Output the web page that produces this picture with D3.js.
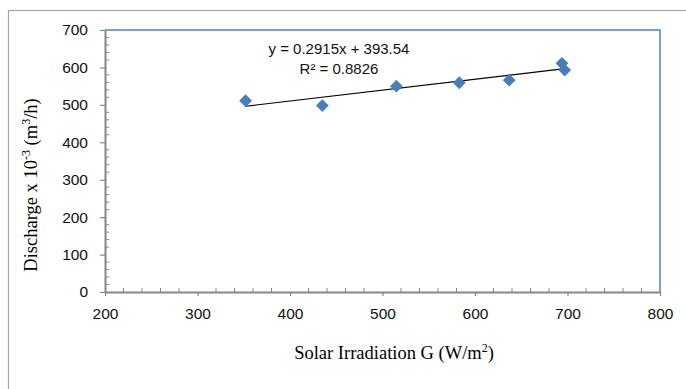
<!DOCTYPE html>
<html>
<head>
<meta charset="utf-8">
<script src="https://cdn.jsdelivr.net/npm/d3@7"></script>
<style>
  html, body { margin: 0; padding: 0; background: #fff; }
  svg { display: block; }
</style>
</head>
<body>
<svg id="chart" width="686" height="389"></svg>
<script>
// ---- data ----
const irradiation = [352, 435, 515, 583, 637, 694, 697];
const discharge   = [511, 498, 550, 559, 566, 611, 593];
const xTicks = [200, 300, 400, 500, 600, 700, 800];
const yTicks = [0, 100, 200, 300, 400, 500, 600, 700];
const trendSlope = 0.2915;
const trendIntercept = 393.54;
const equationLines = ["y = 0.2915x + 393.54", "R\u00B2 = 0.8826"];

const svg = d3.select("#chart");
const W = 686, H = 389;
const plot = { left: 105, right: 660, top: 30, bottom: 292 };

const x = d3.scaleLinear().domain([200, 800]).range([plot.left, plot.right]);
const y = d3.scaleLinear().domain([0, 700]).range([plot.bottom, plot.top]);

// outer chart border
svg.append("rect")
  .attr("x", 8.5).attr("y", 10.5)
  .attr("width", W + 10).attr("height", H + 10)
  .attr("fill", "none").attr("stroke", "#a6a6a6").attr("stroke-width", 1.2);

// plot-area border top/right in blue
svg.append("path")
  .attr("d", `M${plot.left},${plot.top}H${plot.right}V${plot.bottom}`)
  .attr("fill", "none").attr("stroke", "#4f81d0").attr("stroke-width", 1.5);

const axisColor = "#878787";
const tickFont = "'Liberation Sans', Arial, sans-serif";

// minor ticks (inside)
const xMinor = d3.range(200, 801, 20).filter(v => v % 100 !== 0);
const yMinor = d3.range(0, 701, 20).filter(v => v % 100 !== 0);

svg.append("g").selectAll("line").data(xMinor).join("line")
  .attr("x1", d => x(d)).attr("x2", d => x(d))
  .attr("y1", plot.bottom).attr("y2", plot.bottom - 4)
  .attr("stroke", axisColor).attr("stroke-width", 1);

svg.append("g").selectAll("line").data(yMinor).join("line")
  .attr("y1", d => y(d)).attr("y2", d => y(d))
  .attr("x1", plot.left).attr("x2", plot.left + 4)
  .attr("stroke", axisColor).attr("stroke-width", 1);

// x axis
const xAxis = svg.append("g")
  .attr("transform", `translate(0,${plot.bottom})`)
  .call(d3.axisBottom(x).tickValues(xTicks).tickSize(4).tickPadding(12).tickSizeOuter(0));
xAxis.select(".domain").attr("stroke", axisColor).attr("stroke-width", 2);
xAxis.selectAll(".tick line").attr("stroke", axisColor).attr("stroke-width", 1.2);
xAxis.selectAll("text").attr("font-family", tickFont).attr("font-size", 15.5).attr("fill", "#111");

// y axis
const yAxis = svg.append("g")
  .attr("transform", `translate(${plot.left},0)`)
  .call(d3.axisLeft(y).tickValues(yTicks).tickSize(5).tickPadding(12).tickSizeOuter(0));
yAxis.select(".domain").attr("stroke", axisColor).attr("stroke-width", 2);
yAxis.selectAll(".tick line").attr("stroke", axisColor).attr("stroke-width", 1.2);
yAxis.selectAll("text").attr("font-family", tickFont).attr("font-size", 15.5).attr("fill", "#111");

// trendline
const xMin = d3.min(irradiation), xMax = d3.max(irradiation);
svg.append("line")
  .attr("x1", x(xMin)).attr("y1", y(trendSlope * xMin + trendIntercept))
  .attr("x2", x(xMax)).attr("y2", y(trendSlope * xMax + trendIntercept))
  .attr("stroke", "#000").attr("stroke-width", 1.1);

// points (diamonds)
const pts = irradiation.map((v, i) => ({ gx: v, q: discharge[i] }));
svg.append("g").selectAll("path").data(pts).join("path")
  .attr("transform", d => `translate(${x(d.gx)},${y(d.q)})`)
  .attr("d", d3.symbol().type(d3.symbolDiamond2).size(105))
  .attr("fill", "#4a7ebb");

// equation label
svg.append("g").selectAll("text").data(equationLines).join("text")
  .attr("x", 339).attr("y", (d, i) => 54 + i * 20)
  .attr("text-anchor", "middle")
  .attr("font-family", tickFont).attr("font-size", 15).attr("fill", "#111")
  .text(d => d);

// axis titles
const serif = "'Liberation Serif', 'Times New Roman', serif";
const xt = svg.append("text")
  .attr("x", 394).attr("y", 359)
  .attr("text-anchor", "middle")
  .attr("font-family", serif).attr("font-size", 18.5).attr("fill", "#000");
xt.append("tspan").text("Solar Irradiation G (W/m");
xt.append("tspan").attr("dy", -7).attr("font-size", 12).text("2");
xt.append("tspan").attr("dy", 7).text(")");

const yt = svg.append("text")
  .attr("transform", "translate(37,185) rotate(-90)")
  .attr("text-anchor", "middle")
  .attr("font-family", serif).attr("font-size", 18.5).attr("fill", "#000");
yt.append("tspan").text("Discharge x 10");
yt.append("tspan").attr("dy", -7).attr("font-size", 12).text("-3");
yt.append("tspan").attr("dy", 7).text(" (m");
yt.append("tspan").attr("dy", -7).attr("font-size", 12).text("3");
yt.append("tspan").attr("dy", 7).text("/h)");
</script>
</body>
</html>
